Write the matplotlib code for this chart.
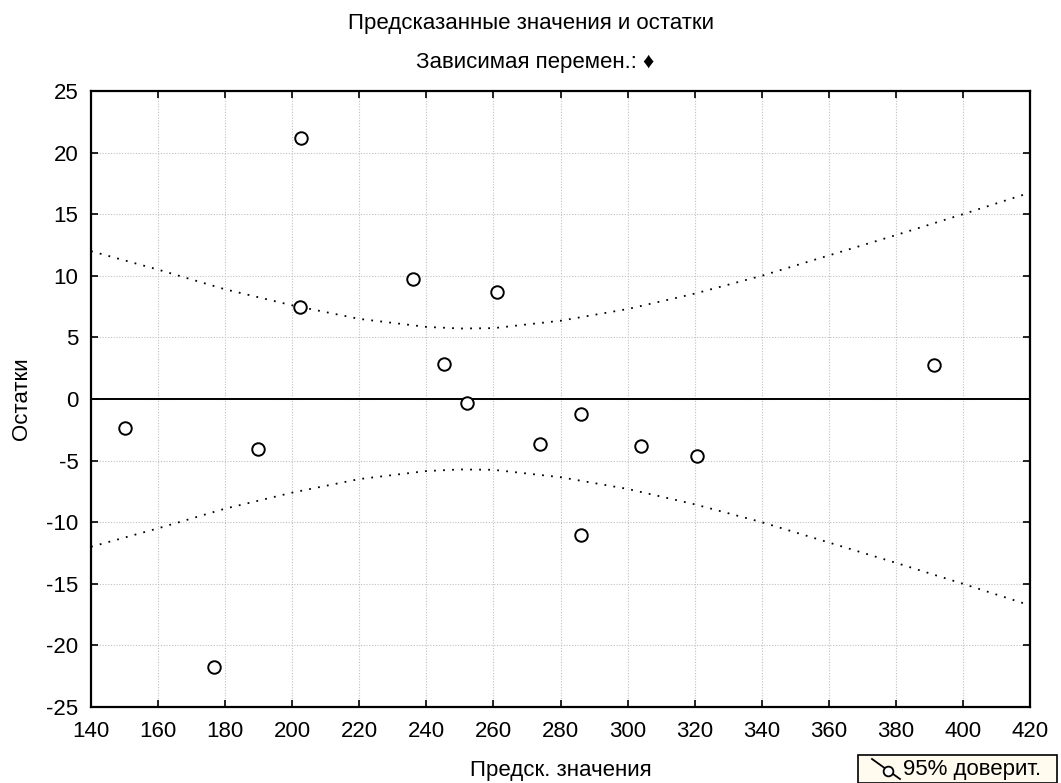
import matplotlib
matplotlib.use("Agg")
import matplotlib.pyplot as plt
from matplotlib.lines import Line2D
from matplotlib.patches import Rectangle

plt.rcParams['font.family'] = ['Liberation Sans', 'DejaVu Sans']
plt.rcParams['axes.unicode_minus'] = False

# predicted values vs residuals
pred = [150.1, 176.7, 189.8, 202.6, 202.3, 236.0, 245.2, 252.1, 261.0,
        273.9, 286.1, 286.1, 304.0, 320.7, 391.3]
resid = [-2.35, -21.75, -4.06, 21.2, 7.47, 9.74, 2.84, -0.32, 8.69,
         -3.65, -1.22, -11.04, -3.81, -4.63, 2.76]

# 95% confidence band (upper half, lower is mirrored)
band_x = [140, 160, 180, 200, 220, 240, 250, 260, 280, 300, 320, 340,
          360, 380, 400, 420]
band_hi = [12.0, 10.5, 8.9, 7.6, 6.5, 5.85, 5.72, 5.75, 6.35, 7.3, 8.55,
           10.0, 11.65, 13.3, 15.0, 16.75]
band_lo = [-v for v in band_hi]

xticks = list(range(140, 421, 20))
yticks = list(range(-25, 26, 5))

FS = 16

fig = plt.figure(figsize=(10.61, 7.83), dpi=100)
ax = fig.add_axes([0.0858, 0.0971, 0.8850, 0.7867])

ax.grid(True, color='#c0c0c0', linestyle=(0, (1, 1.5)), linewidth=0.8)
ax.set_axisbelow(True)
ax.axhline(0, color='black', linewidth=1.4)

ax.plot(band_x, band_hi, color='black', linestyle=(0, (1, 4)), linewidth=1.3)
ax.plot(band_x, band_lo, color='black', linestyle=(0, (1, 4)), linewidth=1.3)

ax.plot(pred, resid, linestyle='none', marker='o', markersize=9,
        markerfacecolor='white', markeredgecolor='black', markeredgewidth=1.4,
        zorder=5)

ax.set_xlim(140, 420)
ax.set_ylim(-25, 25)
ax.set_xticks(xticks)
ax.set_yticks(yticks)
ax.tick_params(direction='in', length=5, width=1.2, labelsize=FS,
               top=True, right=True)
ax.tick_params(axis='x', pad=10)
ax.tick_params(axis='y', pad=9)
for s in ax.spines.values():
    s.set_linewidth(1.6)

ax.set_xlabel('Предск. значения', fontsize=FS, labelpad=13)
ax.set_ylabel('Остатки', fontsize=FS, labelpad=10)

fig.text(0.5, 0.970, 'Предсказанные значения и остатки', ha='center',
         va='center', fontsize=FS)
fig.text(0.504, 0.920, 'Зависимая перемен.: ♦', ha='center', va='center',
         fontsize=FS)

# legend box at bottom right
fig.add_artist(Rectangle((858 / 1061, 0.0), 199 / 1061, 28 / 783,
                         transform=fig.transFigure, facecolor='#fffbef',
                         edgecolor='black', linewidth=1.2))
fig.add_artist(Line2D([872 / 1061, 900 / 1061], [24 / 783, 4 / 783],
                      transform=fig.transFigure, color='black', linewidth=1.3))
fig.add_artist(Line2D([888 / 1061], [12 / 783], transform=fig.transFigure,
                      marker='o', markersize=7, markerfacecolor='white',
                      markeredgecolor='black', markeredgewidth=1.3))
fig.text(903 / 1061, 13 / 783, '95% доверит.', ha='left', va='center',
         fontsize=FS)

fig.savefig('out.png', dpi=100)
